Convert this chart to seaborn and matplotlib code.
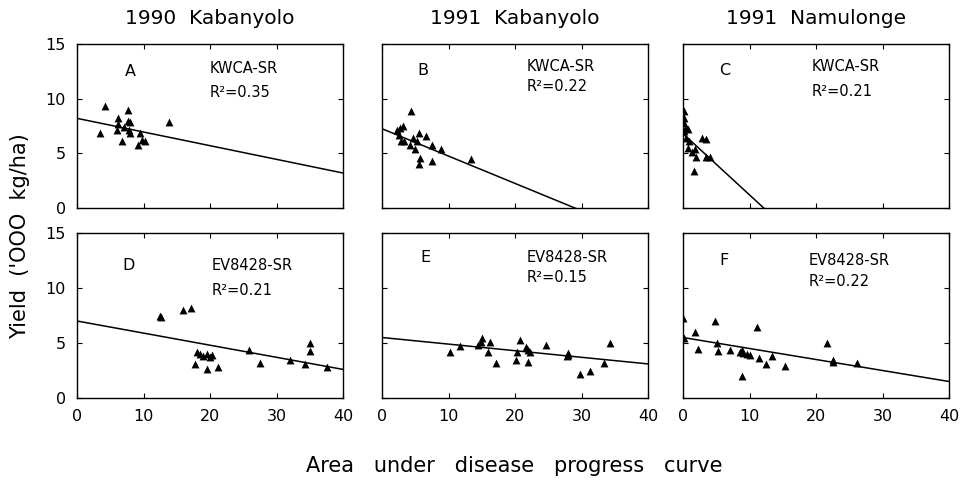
import numpy as np
import pandas as pd
import matplotlib
matplotlib.use("Agg")
import matplotlib.pyplot as plt
import seaborn as sns

# ---------------- data ----------------
col_titles = ["1990  Kabanyolo", "1991  Kabanyolo", "1991  Namulonge"]
panel_letters = ["A", "B", "C", "D", "E", "F"]
cultivars = ["KWCA-SR", "KWCA-SR", "KWCA-SR", "EV8428-SR", "EV8428-SR", "EV8428-SR"]
r2_labels = ["R\u00b2=0.35", "R\u00b2=0.22", "R\u00b2=0.21", "R\u00b2=0.21", "R\u00b2=0.15", "R\u00b2=0.22"]

a_x = [3.4, 4.2, 6.0, 6.1, 6.2, 6.7, 7.0, 7.6, 7.7, 7.9, 7.8, 8.0, 9.1, 9.5, 9.7, 10.2, 13.9]
a_y = [6.9, 9.3, 7.1, 8.2, 7.7, 6.1, 7.4, 9.0, 8.0, 7.9, 7.1, 6.9, 5.8, 6.9, 6.2, 6.1, 7.9]

b_x = [4.3, 2.2, 2.7, 3.2, 2.5, 2.8, 3.3, 4.2, 4.7, 5.0, 5.5, 5.3, 5.7, 5.6, 6.6, 7.5, 7.5, 8.9, 13.4]
b_y = [8.9, 7.1, 7.3, 7.5, 6.7, 6.1, 6.1, 5.8, 6.4, 5.4, 6.9, 6.1, 4.6, 4.0, 6.6, 5.8, 4.3, 5.4, 4.5]

c_x = [0.15, 0.2, 0.2, 0.4, 0.2, 0.8, 0.5, 0.9, 0.8, 1.8, 1.3, 2.0, 1.6, 2.8, 3.5, 3.4, 4.0]
c_y = [8.9, 8.2, 7.8, 7.3, 7.0, 7.2, 6.4, 6.1, 5.5, 5.4, 5.1, 4.7, 3.4, 6.4, 6.3, 4.7, 4.7]

d_x = [12.7, 12.5, 15.9, 17.1, 17.7, 18.1, 18.5, 19.0, 19.5, 20.0, 20.3, 19.5, 21.2, 25.8, 27.5, 32.0, 34.3, 35.1, 35.1, 37.6]
d_y = [7.4, 7.5, 8.0, 8.2, 3.1, 4.2, 4.0, 3.8, 4.0, 3.7, 3.9, 2.6, 2.8, 4.4, 3.2, 3.5, 3.1, 5.0, 4.3, 2.8]

e_x = [10.3, 11.8, 14.5, 15.0, 14.9, 16.2, 16.0, 17.2, 20.2, 20.3, 20.8, 21.7, 21.9, 22.3, 21.9, 24.7, 27.8, 28.0, 27.9, 29.8, 31.3, 33.4, 34.3]
e_y = [4.2, 4.7, 4.8, 5.5, 5.1, 5.1, 4.2, 3.2, 3.5, 4.2, 5.3, 4.6, 4.4, 4.2, 3.3, 4.8, 3.8, 4.1, 3.9, 2.2, 2.5, 3.2, 5.0]

f_x = [0.05, 0.1, 1.8, 2.3, 4.8, 5.1, 5.3, 7.0, 8.5, 8.8, 9.0, 9.6, 10.0, 8.9, 11.1, 11.5, 12.5, 13.4, 15.3, 21.6, 22.6, 22.6, 26.1]
f_y = [7.3, 5.5, 6.0, 4.5, 7.0, 5.0, 4.3, 4.4, 4.2, 4.4, 4.1, 4.0, 3.9, 2.0, 6.5, 3.6, 3.1, 3.8, 2.9, 5.0, 3.5, 3.3, 3.2]

line_intercepts = [8.2, 7.25, 6.8, 7.0, 5.5, 5.5]
line_slopes = [-0.125, -0.25, -0.56, -0.11, -0.06, -0.10]

x_ticks = [0, 10, 20, 30, 40]
y_ticks = [0, 5, 10, 15]

# text placement (data coords)
letter_pos = [(8.0, 12.5), (6.2, 12.6), (6.3, 12.6), (7.7, 12.0), (6.5, 12.8), (6.1, 12.5)]
cult_pos = [(20.0, 12.8), (21.8, 12.9), (19.4, 12.9), (20.3, 12.0), (21.8, 12.8), (18.9, 12.5)]
r2_pos = [(20.0, 10.6), (21.8, 11.1), (19.4, 10.7), (20.3, 9.8), (21.8, 11.0), (18.9, 10.6)]

xs = [a_x, b_x, c_x, d_x, e_x, f_x]
ys = [a_y, b_y, c_y, d_y, e_y, f_y]

# ---------------- plot ----------------
sns.set_theme(style="ticks")
plt.rcParams["font.family"] = ["DejaVu Sans"]
plt.rcParams["text.color"] = "black"

fig = plt.figure(figsize=(9.66, 4.82), dpi=100)
W, H = 966, 482
col_left_px = [77, 382, 683]
ax_w_px = 266
rows_px = [(44, 208), (233, 398)]

axes = []
for r, (top, bot) in enumerate(rows_px):
    for c, left in enumerate(col_left_px):
        ax = fig.add_axes([left / W, 1 - bot / H, ax_w_px / W, (bot - top) / H])
        axes.append(ax)

for i, ax in enumerate(axes):
    df = pd.DataFrame({"x": xs[i], "y": ys[i]})
    sns.scatterplot(data=df, x="x", y="y", ax=ax, marker="^", color="black",
                    s=32, linewidth=0, edgecolor="black")
    lx = np.array([0, 40])
    ly = line_intercepts[i] + line_slopes[i] * lx
    ax.plot(lx, ly, color="black", lw=1.1)
    ax.set_xlim(0, 40)
    ax.set_ylim(0, 15)
    ax.set_xticks(x_ticks)
    ax.set_yticks(y_ticks)
    ax.set_xlabel("")
    ax.set_ylabel("")
    ax.tick_params(direction="in", length=3.5, width=0.8, top=True, right=True,
                   labelsize=11.5, colors="black", pad=8)
    for sp in ax.spines.values():
        sp.set_linewidth(1.0)
        sp.set_color("black")
    if i % 3 != 0:
        ax.set_yticklabels([])
    if i < 3:
        ax.set_xticklabels([])
    ax.text(*letter_pos[i], panel_letters[i], ha="center", va="center", fontsize=11.5)
    ax.text(*cult_pos[i], cultivars[i], ha="left", va="center", fontsize=10.5)
    ax.text(*r2_pos[i], r2_labels[i], ha="left", va="center", fontsize=10.5)

for c, left in enumerate(col_left_px):
    fig.text((left + ax_w_px / 2) / W, 1 - 18 / H, col_titles[c],
             ha="center", va="center", fontsize=14.5)

fig.text(20 / W, 0.51, "Yield  ('OOO  kg/ha)", rotation=90, ha="center", va="center", fontsize=15)
fig.text(514 / W, 1 - 466 / H, "Area   under   disease   progress   curve",
         ha="center", va="center", fontsize=15)

fig.savefig("out.png", dpi=100, facecolor="white")
